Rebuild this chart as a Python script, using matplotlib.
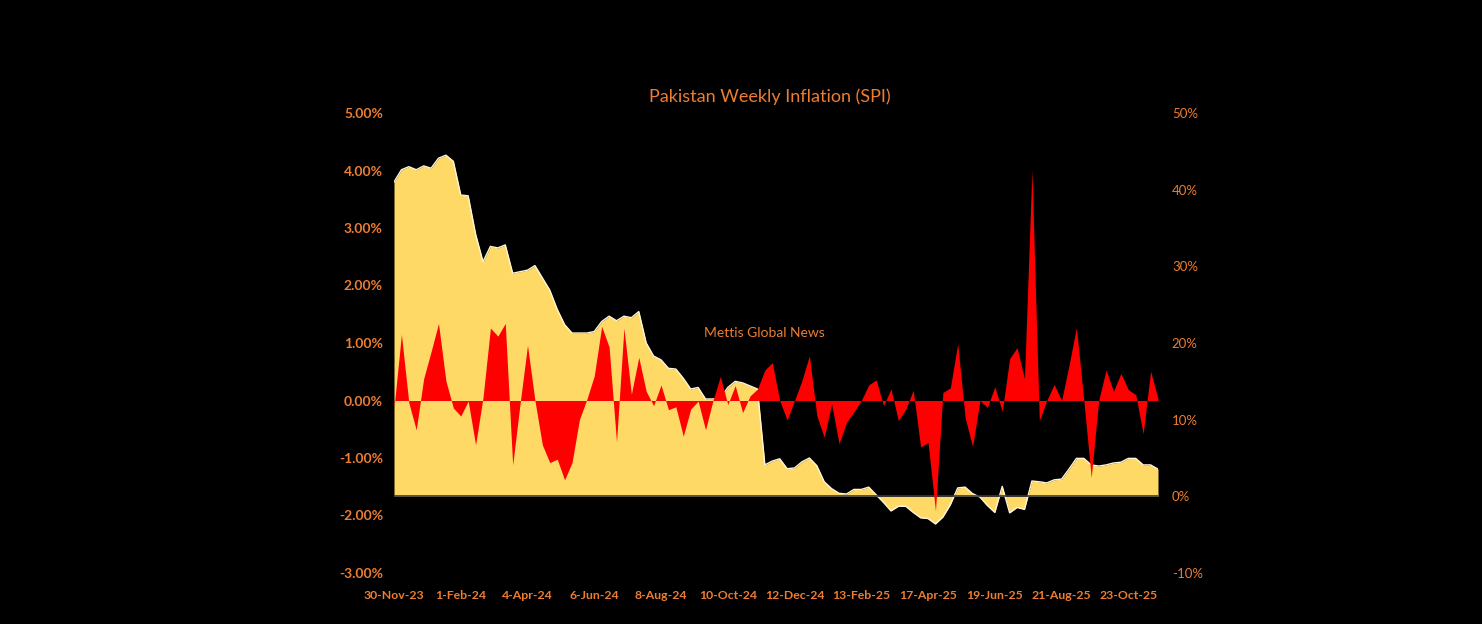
import numpy as np
import pandas as pd
import matplotlib
matplotlib.use("Agg")
import matplotlib.pyplot as plt
from matplotlib.ticker import FuncFormatter

plt.rcParams['font.family'] = ['Lato', 'DejaVu Sans']

# weekly SPI change (%), left axis
weekly_change = [
    -0.13, 1.15, -0.04, -0.51, 0.38, 0.85, 1.34, 0.34, -0.13, -0.27,
    -0.01, -0.77, 0.05, 1.26, 1.12, 1.34, -1.12, -0.05, 0.96, 0.00,
    -0.77, -1.08, -1.02, -1.38, -1.08, -0.33, 0.02, 0.43, 1.29, 0.93,
    -0.72, 1.26, 0.11, 0.75, 0.16, -0.09, 0.27, -0.16, -0.11, -0.62,
    -0.15, -0.01, -0.51, 0.00, 0.42, -0.07, 0.26, -0.21, 0.08, 0.20,
    0.53, 0.66, 0.00, -0.34, 0.00, 0.35, 0.78, -0.26, -0.64, -0.06,
    -0.75, -0.38, -0.20, 0.00, 0.27, 0.36, -0.09, 0.20, -0.35, -0.15,
    0.18, -0.81, -0.73, -1.92, 0.14, 0.22, 0.99, -0.30, -0.80, 0.00,
    -0.12, 0.24, -0.19, 0.73, 0.92, 0.38, 4.01, -0.35, 0.00, 0.28,
    0.00, 0.61, 1.27, 0.00, -1.34, 0.00, 0.53, 0.16, 0.47, 0.19,
    0.10, -0.58, 0.51, 0.03,
]

# year-on-year SPI (%), right axis
yoy_change = [
    41.0, 42.6, 43.0, 42.6, 43.1, 42.8, 44.1, 44.5, 43.7, 39.3,
    39.2, 34.2, 30.6, 32.6, 32.4, 32.8, 29.1, 29.3, 29.5, 30.1,
    28.5, 26.9, 24.4, 22.4, 21.3, 21.3, 21.3, 21.5, 22.8, 23.5,
    22.9, 23.5, 23.3, 24.1, 20.0, 18.3, 17.8, 16.7, 16.6, 15.4,
    14.0, 14.2, 12.7, 12.7, 12.8, 14.2, 15.0, 14.8, 14.4, 14.0,
    4.1, 4.6, 4.9, 3.6, 3.7, 4.5, 5.0, 4.0, 1.9, 1.0,
    0.4, 0.3, 0.9, 0.9, 1.2, 0.2, -0.8, -1.9, -1.3, -1.3,
    -2.1, -2.8, -2.9, -3.6, -2.7, -1.1, 1.1, 1.2, 0.35, -0.1,
    -1.2, -2.1, 1.3, -2.15, -1.45, -1.7, 2.0, 1.9, 1.75, 2.15,
    2.25, 3.55, 4.95, 4.95, 4.1, 3.95, 4.1, 4.35, 4.45, 4.95,
    4.95, 4.1, 4.1, 3.55,
]

weeks = pd.date_range("2023-11-30", periods=len(weekly_change), freq="7D")
week_labels = [f"{d.day}-{d.strftime('%b-%y')}" for d in weeks]

ORANGE = "#ED7D31"
YELLOW = "#FFD966"
RED = "#FF0000"

x = np.arange(len(weekly_change))

fig = plt.figure(figsize=(14.82, 6.24), dpi=100, facecolor="black")
ax = fig.add_axes([394 / 1482, 1 - 573 / 624, (1158 - 394) / 1482, (573 - 113) / 624])
ax2 = ax.twinx()

# yellow YoY area behind, red weekly area on top
ax2.fill_between(x, 0, yoy_change, color=YELLOW, lw=0)
ax2.plot(x, yoy_change, color="#FFF6DA", lw=1.0)
ax2.axhline(0, color="#3A3A3A", lw=1.2)
ax2.set_ylim(-10, 50)
ax2.set_yticks(np.arange(-10, 51, 10))
ax2.yaxis.set_major_formatter(FuncFormatter(lambda v, p: f"{v:.0f}%"))

ax.set_zorder(ax2.get_zorder() + 1)
ax.patch.set_visible(False)
ax2.set_facecolor("black")
ax.fill_between(x, 0, weekly_change, color=RED, lw=0)
ax.set_ylim(-3, 5)
ax.set_yticks(np.arange(-3, 6, 1))
ax.yaxis.set_major_formatter(FuncFormatter(lambda v, p: f"{v:.2f}%"))
ax.set_xlim(0, len(x) - 1)
ax.set_xticks(x[::9])
ax.set_xticklabels(week_labels[::9])

for a in (ax, ax2):
    for s in a.spines.values():
        s.set_visible(False)
    a.tick_params(length=0)

ax.tick_params(axis="y", colors=ORANGE, labelsize=10, pad=8)
ax.tick_params(axis="x", colors=ORANGE, labelsize=8.8, pad=12)
ax2.tick_params(axis="y", colors=ORANGE, labelsize=9.5, pad=10)
for lab in ax.get_yticklabels() + ax.get_xticklabels():
    lab.set_fontweight("bold")

fig.text(770 / 1482, 1 - 97 / 624, "Pakistan Weekly Inflation (SPI)", color=ORANGE,
         fontsize=13, ha="center", va="center")
fig.text(764 / 1482, 1 - 333 / 624, "Mettis Global News", color=ORANGE,
         fontsize=10, ha="center", va="center")

fig.savefig("out.png", dpi=100, facecolor="black")
